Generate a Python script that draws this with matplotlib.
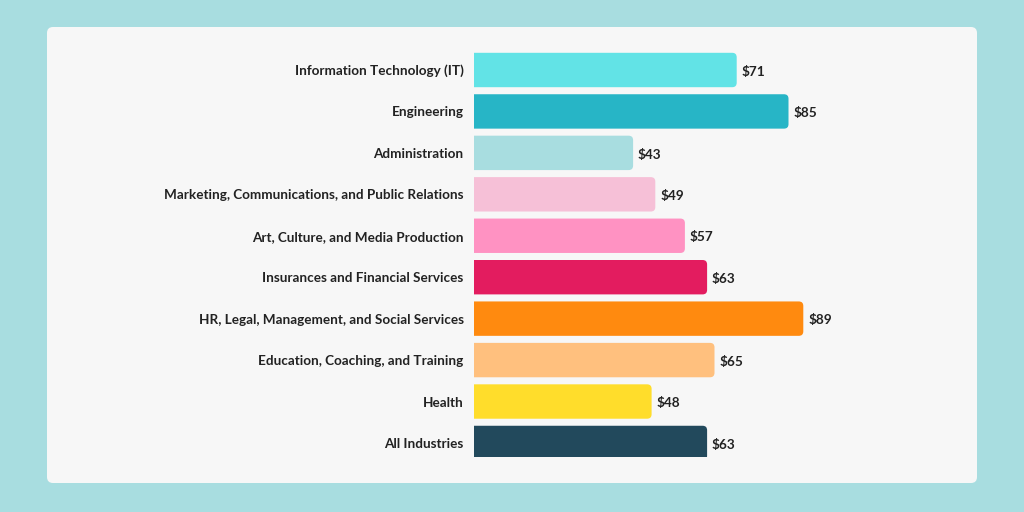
import matplotlib.pyplot as plt
from matplotlib.patches import FancyBboxPatch

categories = ['Information Technology (IT)', 'Engineering', 'Administration',
              'Marketing, Communications, and Public Relations',
              'Art, Culture, and Media Production', 'Insurances and Financial Services',
              'HR, Legal, Management, and Social Services',
              'Education, Coaching, and Training', 'Health', 'All Industries']
values = [71, 85, 43, 49, 57, 63, 89, 65, 48, 63]
colors = ['#62e3e6', '#27b5c6', '#a8dde0', '#f6c0d7', '#ff92c2',
          '#e31c5f', '#ff8a0f', '#ffc07e', '#ffdd2b', '#22495c']

plt.rcParams['font.family'] = ['Lato', 'DejaVu Sans']

W, H = 1024, 512
fig = plt.figure(figsize=(W / 100, H / 100), dpi=100)
fig.patch.set_facecolor('#a8dde0')

# white panel
px0, py0, px1, py1 = 47, 27, 977, 483
panel = FancyBboxPatch((px0 / W, 1 - py1 / H), (px1 - px0) / W, (py1 - py0) / H,
                       boxstyle='round,pad=0,rounding_size=%f' % (6 / W),
                       mutation_aspect=W / H, transform=fig.transFigure,
                       facecolor='#f7f7f7', edgecolor='none', zorder=-5)
fig.patches.append(panel)

# axes placement in pixels
ax_l, ax_r, ax_t, ax_b = 474, 900, 49, 457
ax = fig.add_axes([ax_l / W, 1 - ax_b / H, (ax_r - ax_l) / W, (ax_b - ax_t) / H])
ax.set_zorder(2)
ax.set_facecolor('none')

px_per_x = 3.7
pitch = 41.44
xmax = (ax_r - ax_l) / px_per_x
ax.set_xlim(0, xmax)
ytop = -(70 - ax_t) / pitch
ax.set_ylim(ytop + (ax_b - ax_t) / pitch, ytop)

bar_h = 0.83
r_px = 4.5
r_x = r_px / px_per_x
aspect = (r_px / pitch) / r_x

for i, (v, c) in enumerate(zip(values, colors)):
    p = FancyBboxPatch((-3, i - bar_h / 2), v + 3, bar_h,
                       boxstyle='round,pad=0,rounding_size=%f' % r_x,
                       mutation_aspect=aspect, facecolor=c, edgecolor='none')
    ax.add_patch(p)
    ax.text(v + 1.3, i + 0.04, '$%d' % v, va='center', ha='left',
            fontsize=9.8, fontweight='bold', color='#222222')

ax.set_yticks(range(len(categories)))
ax.set_yticklabels(categories, fontsize=9.7, fontweight='bold', color='#222222')
ax.tick_params(axis='y', length=0, pad=7.5)
ax.set_xticks([])
for s in ax.spines.values():
    s.set_visible(False)

fig.savefig('out.png', dpi=100, facecolor=fig.get_facecolor())
